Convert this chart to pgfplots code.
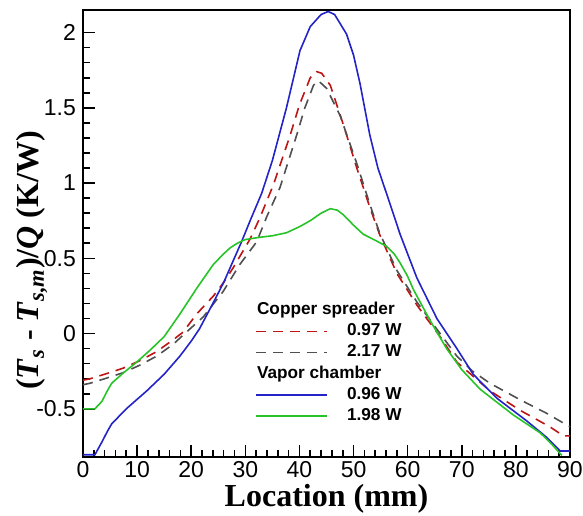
\documentclass[border=0pt]{standalone}
\usepackage{pgfplots}
\pgfplotsset{compat=1.18}
\usepackage{fontspec}
\setmainfont{Liberation Serif}
\setsansfont{Liberation Sans}
\definecolor{cred}{RGB}{190,20,20}
\definecolor{cgray}{RGB}{80,80,80}
\definecolor{cblue}{RGB}{35,35,200}
\definecolor{cgreen}{RGB}{40,195,40}
\begin{document}
\begin{tikzpicture}
\begin{axis}[
  scale only axis, width=243.5pt, height=223.5pt,
  xmin=0, xmax=90, ymin=-0.82, ymax=2.15,
  xtick distance=10, minor x tick num=4,
  ytick={-0.5,0,0.5,1,1.5,2}, minor y tick num=4,
  tick pos=left, tick align=inside,
  major tick length=6pt, minor tick length=3.5pt,
  every tick/.style={line width=0.8pt, black},
  axis line style={line width=1pt},
  /pgf/number format/assume math mode=true,
  ticklabel style={font=\fontsize{11.5}{13}\sffamily},
  xticklabel style={inner sep=1pt, yshift=-1pt},
  xlabel={\bfseries Location (mm)},
  ylabel={\bfseries (\textit{T}\textsubscript{\textit{s}} - \textit{T}\textsubscript{\textit{s,m}})/\textit{Q} (K/W)},
  label style={font=\fontsize{16}{18}\selectfont, inner sep=0pt},
  xlabel style={at={(axis description cs:0.5,-0.094)}, anchor=center},
  ylabel style={at={(axis description cs:-0.105,0.44)}, anchor=center},
  legend image code/.code={\draw[#1] (0pt,0pt) -- (35.5pt,0pt);},
  legend cell align=left,
  legend style={draw=none, fill=none, at={(axis cs:31.8,0.23)}, anchor=north west,
    font=\fontsize{8.6}{10.5}\sffamily\bfseries, inner sep=0pt,
    nodes={inner sep=1.5pt}, column sep=8pt},
]
\addlegendimage{empty legend}
\addlegendentry{\hspace*{-45pt}Copper spreader}
\addplot[cred, line width=0.8pt, dash pattern=on 5pt off 3.5pt] coordinates {
(0,-0.31) (1.3,-0.30) (4,-0.27) (7.4,-0.23) (10.5,-0.18) (13.6,-0.12) (16.7,-0.04)
(18.5,0.01) (21,0.13) (24.1,0.25) (26,0.34) (27.8,0.44) (30.9,0.63) (32.7,0.77)
(35.2,0.99) (38.3,1.32) (40,1.52) (42,1.70) (43.2,1.74) (44.1,1.73) (45.7,1.65)
(48.1,1.39) (50.6,1.10) (53,0.84) (54.8,0.66) (58,0.40) (61.7,0.19) (62.9,0.13)
(66,-0.02) (69.1,-0.19) (75.2,-0.38) (80.8,-0.51) (86.3,-0.62) (88.8,-0.68) (90,-0.68)
};
\addlegendentry{0.97 W}
\addplot[cgray, line width=0.8pt, dash pattern=on 5pt off 3.5pt] coordinates {
(0,-0.34) (1.3,-0.33) (4,-0.30) (7.4,-0.26) (10.5,-0.21) (13.6,-0.15) (16.7,-0.07)
(18.5,-0.01) (22.2,0.11) (25.9,0.28) (29,0.46) (32.1,0.61) (34,0.78) (36.4,0.97)
(39.5,1.32) (41,1.50) (42.6,1.65) (43.5,1.68) (45,1.63) (47.5,1.45) (50.6,1.13)
(53,0.86) (54.8,0.67) (58,0.42) (61.7,0.21) (66,0.00) (69.1,-0.15) (72,-0.25)
(75.2,-0.33) (80.8,-0.44) (85.7,-0.53) (90,-0.62)
};
\addlegendentry{2.17 W}
\addlegendimage{empty legend}
\addlegendentry{\hspace*{-45pt}Vapor chamber}
\addplot[cblue, line width=0.8pt] coordinates {
(0,-0.805) (2.2,-0.805) (3.5,-0.72) (4.5,-0.65) (5.3,-0.60) (8,-0.50) (11.8,-0.38)
(15,-0.27) (17.9,-0.15) (20,-0.05) (21.5,0.03) (24,0.20) (26,0.34) (29.3,0.61)
(31,0.76) (33,0.93) (35,1.15) (37.6,1.50) (40.1,1.88) (42,2.04) (44,2.12) (45.3,2.14)
(46.5,2.12) (48.7,1.99) (50,1.85) (51.2,1.66) (53,1.32) (54.5,1.10) (56.1,0.93)
(58.6,0.66) (61.7,0.37) (65.4,0.10) (69.1,-0.10) (72.1,-0.27) (76.5,-0.43)
(82,-0.58) (85.7,-0.69) (88.2,-0.78) (90,-0.78)
};
\addlegendentry{0.96 W}
\addplot[cgreen, line width=0.8pt] coordinates {
(0,-0.50) (2.2,-0.50) (3.5,-0.45) (4.5,-0.38) (5.3,-0.33) (7.5,-0.26) (9.9,-0.19)
(12.4,-0.11) (15,-0.02) (17.9,0.13) (21,0.30) (24.1,0.46) (26,0.53) (27.2,0.57)
(28.5,0.60) (30,0.625) (32.7,0.64) (35,0.65) (37.6,0.67) (40,0.71) (42,0.75)
(44,0.80) (45.7,0.83) (47,0.82) (48.1,0.79) (50,0.72) (51.8,0.66) (54,0.62)
(56.1,0.58) (57.5,0.53) (58.6,0.47) (60,0.38) (61.1,0.29) (64.1,0.09) (67.2,-0.10)
(70,-0.24) (73.4,-0.37) (79.5,-0.54) (84.5,-0.66) (86.5,-0.73) (88.5,-0.81)
};
\addlegendentry{1.98 W}
\end{axis}
\pgfresetboundingbox
\path (current axis.south west) ++(-41.5pt,-29pt) coordinate (bbA);
\path (current axis.north east) ++(6.5pt,5pt) coordinate (bbB);
\path[use as bounding box] (bbA) rectangle (bbB);
\end{tikzpicture}
\end{document}
